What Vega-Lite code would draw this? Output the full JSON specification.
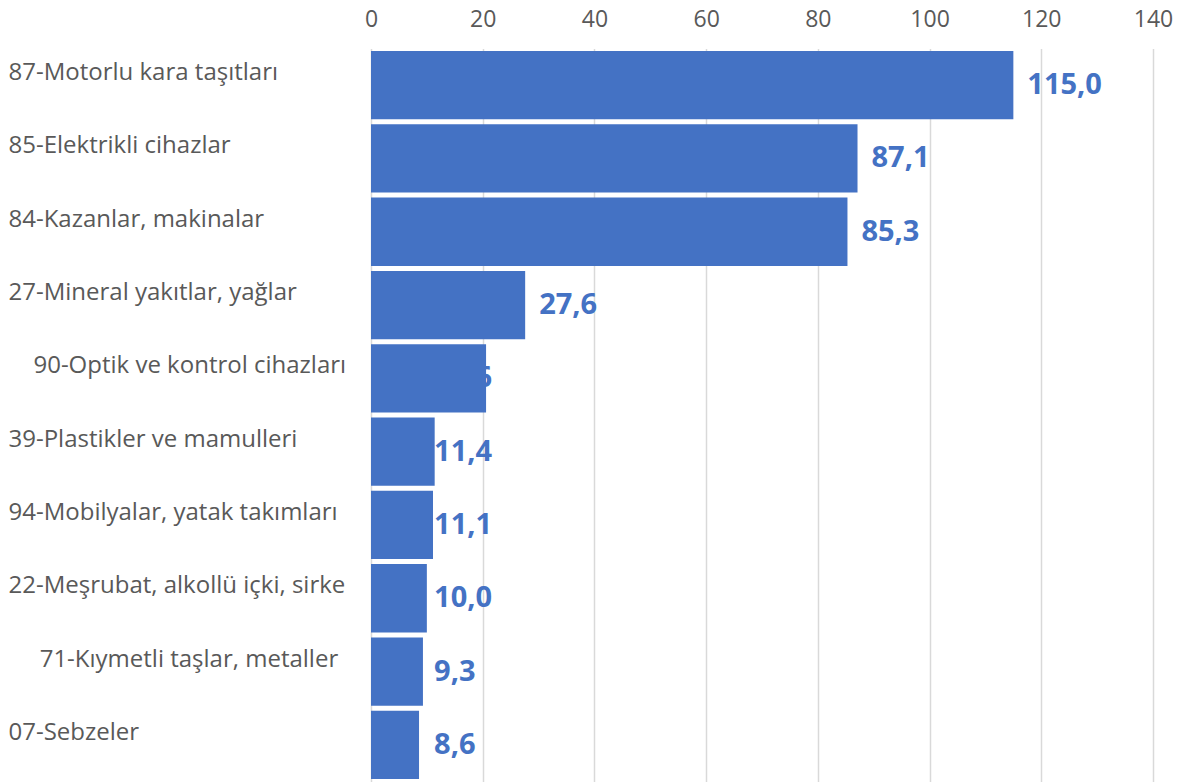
{
  "$schema": "https://vega.github.io/schema/vega-lite/v6.json",
  "width": 782,
  "height": 733,
  "autosize": "none",
  "padding": {"left": 371, "top": 48.5, "right": 29, "bottom": 0.5},
  "background": "white",
  "data": {
    "values": [
      {"category": "87-Motorlu kara taşıtları", "value": 115.0},
      {"category": "85-Elektrikli cihazlar", "value": 87.1},
      {"category": "84-Kazanlar, makinalar", "value": 85.3},
      {"category": "27-Mineral yakıtlar, yağlar", "value": 27.6},
      {"category": "\u200b\u00a0\u00a0\u00a0\u00a090-Optik ve kontrol cihazları", "value": 20.6},
      {"category": "39-Plastikler ve mamulleri", "value": 11.4},
      {"category": "94-Mobilyalar, yatak takımları", "value": 11.1},
      {"category": "22-Meşrubat, alkollü içki, sirke", "value": 10.0},
      {"category": "\u200b\u00a0\u00a0\u00a0\u00a0\u00a071-Kıymetli taşlar, metaller", "value": 9.3},
      {"category": "07-Sebzeler", "value": 8.6}
    ]
  },
  "encoding": {
    "y": {
      "field": "category",
      "type": "nominal",
      "sort": null,
      "scale": {"paddingInner": 0.068, "paddingOuter": 0.034},
      "axis": {
        "title": null,
        "domain": false,
        "ticks": false,
        "tickSize": 0,
        "labelAlign": "left",
        "labelPadding": 363,
        "labelLimit": 400,
        "labelFont": "Open Sans",
        "labelFontSize": 24,
        "labelColor": "#595959",
        "labelOffset": -12
      }
    }
  },
  "layer": [
    {
      "mark": {"type": "bar", "color": "#4472C4"},
      "encoding": {
        "x": {
          "field": "value",
          "type": "quantitative",
          "scale": {"domain": [0, 140], "nice": false},
          "axis": {
            "title": null,
            "orient": "top",
            "values": [0, 20, 40, 60, 80, 100, 120, 140],
            "grid": true,
            "gridColor": "#d9d9d9",
            "gridWidth": 1.5,
            "domain": false,
            "ticks": false,
            "tickSize": 0,
            "labelFlush": false,
            "labelOverlap": false,
            "labelFont": "Open Sans",
            "labelFontSize": 23,
            "labelColor": "#595959",
            "labelPadding": 17
          }
        }
      }
    },
    {
      "transform": [
        {"calculate": "datum.value > 25 ? datum.value + 2.5 : 11.3", "as": "labelX"}
      ],
      "mark": {
        "type": "text",
        "align": "left",
        "baseline": "middle",
        "font": "Open Sans",
        "fontSize": 29,
        "fontWeight": "bold",
        "color": "#4472C4"
      },
      "encoding": {
        "x": {
          "field": "labelX",
          "type": "quantitative",
          "scale": {"domain": [0, 140], "nice": false},
          "axis": {
            "title": null,
            "orient": "top",
            "values": [0, 20, 40, 60, 80, 100, 120, 140],
            "grid": true,
            "gridColor": "#d9d9d9",
            "gridWidth": 1.5,
            "domain": false,
            "ticks": false,
            "tickSize": 0,
            "labelFlush": false,
            "labelOverlap": false,
            "labelFont": "Open Sans",
            "labelFontSize": 23,
            "labelColor": "#595959",
            "labelPadding": 17
          }
        },
        "text": {"field": "value", "type": "quantitative", "format": ".1f"}
      }
    }
  ],
  "config": {
    "view": {"stroke": null},
    "locale": {
      "number": {"decimal": ",", "thousands": ".", "grouping": [3], "currency": ["", " ₺"]}
    }
  }
}
